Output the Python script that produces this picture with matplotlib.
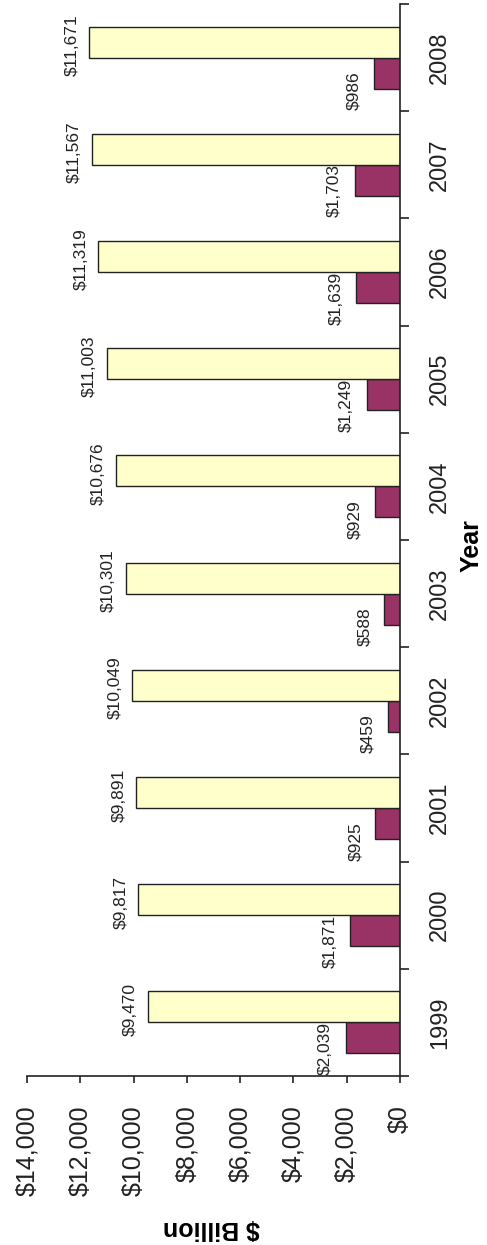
import numpy as np
import matplotlib
matplotlib.use('Agg')
import matplotlib.pyplot as plt

# data (chart is drawn turned on its side, like the reference)
years = ['1999', '2000', '2001', '2002', '2003', '2004', '2005', '2006', '2007', '2008']
purple_vals = [2039, 1871, 925, 459, 588, 929, 1249, 1639, 1703, 986]
yellow_vals = [9470, 9817, 9891, 10049, 10301, 10676, 11003, 11319, 11567, 11671]
value_ticks = [0, 2000, 4000, 6000, 8000, 10000, 12000, 14000]
value_tick_labels = ['$0', '$2,000', '$4,000', '$6,000', '$8,000', '$10,000', '$12,000', '$14,000']

plt.rcParams['font.family'] = ['Liberation Sans', 'DejaVu Sans']

W, H = 487, 1245
fig = plt.figure(figsize=(W / 100, H / 100), dpi=100)
ax = fig.add_axes([27 / W, 1 - 1076 / H, 373 / W, 1072 / H])

pos = np.arange(len(years))
h = 0.29
ax.barh(pos - h / 2, purple_vals, height=h, color='#993366', edgecolor='#222222', linewidth=1)
ax.barh(pos + h / 2, yellow_vals, height=h, color='#FFFFCC', edgecolor='#222222', linewidth=1)

ax.set_xlim(14000, 0)
ax.set_ylim(-0.5, 9.5)

for s in ['left', 'top']:
    ax.spines[s].set_visible(False)
for s in ['right', 'bottom']:
    ax.spines[s].set_color('#222222')
    ax.spines[s].set_linewidth(1.2)

# value axis (bottom)
ax.set_xticks(value_ticks)
ax.set_xticklabels(value_tick_labels, rotation=90, fontsize=18, color='#222222')
ax.tick_params(axis='x', direction='out', length=5, width=1.2, pad=16, color='#222222')

# year axis (right)
ax.yaxis.tick_right()
ax.set_yticks(pos)
ax.set_yticklabels(years, rotation=90, va='center', fontsize=17, color='#222222')
ax.set_yticks(np.arange(-0.5, 10, 1), minor=True)
ax.tick_params(axis='y', which='major', length=0, pad=21)
ax.tick_params(axis='y', which='minor', direction='out', length=6.5, width=1.2,
               right=True, left=False, color='#222222')

# data labels
for p, v in zip(pos, purple_vals):
    ax.annotate('$' + format(v, ','), xy=(v, p - 0.49), xytext=(-9, 0),
                textcoords='offset points', rotation=90, ha='right', va='bottom',
                fontsize=12.5, color='#222222')
for p, v in zip(pos, yellow_vals):
    ax.annotate('$' + format(v, ','), xy=(v, p + h / 2), xytext=(-7, -2),
                textcoords='offset points', rotation=90, ha='right', va='center',
                fontsize=12.5, color='#222222')

fig.text(211 / W, 1 - 1228 / H, '$ Billion', rotation=180, fontsize=18,
         fontweight='bold', ha='center', va='center')
fig.text(472 / W, 1 - 546 / H, 'Year', rotation=90, fontsize=18,
         fontweight='bold', ha='center', va='center')

fig.savefig('out.png', dpi=100)
